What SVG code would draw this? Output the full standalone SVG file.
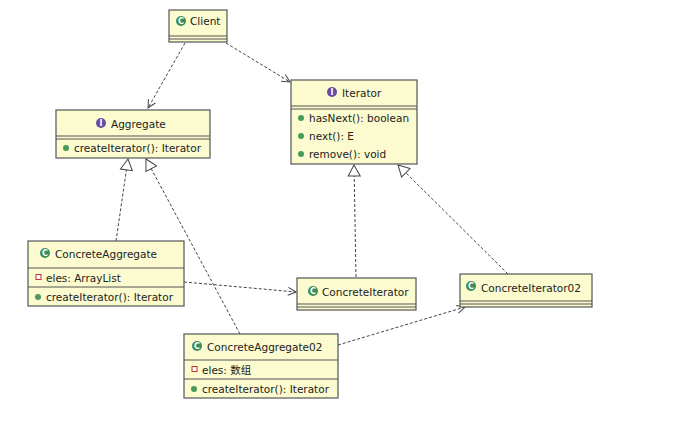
<svg xmlns="http://www.w3.org/2000/svg" width="678" height="425" viewBox="0 0 678 425">
<style>
.box{fill:#fbfbcf;stroke:#555;stroke-width:1.2}
.ln{stroke:#555;stroke-width:1}
text{font-family:"DejaVu Sans","Noto Sans CJK SC",sans-serif;font-size:10.5px;fill:#222}
.e{fill:none;stroke:#444;stroke-width:1;stroke-dasharray:3,2}
.c{fill:#3c8c5a}.i{fill:#6a4aa8}.m{fill:#4a9a5a}.f{fill:#fff;stroke:#c03030;stroke-width:1}
.ct{fill:#fff;font-size:8px;font-weight:bold;text-anchor:middle}
</style>
<defs>
<marker id="open" markerWidth="10" markerHeight="10" refX="9" refY="5" orient="auto" markerUnits="userSpaceOnUse"><path d="M1,1 L9,5 L1,9" fill="none" stroke="#444"/></marker>
<marker id="tri" markerWidth="14" markerHeight="14" refX="12" refY="7" orient="auto" markerUnits="userSpaceOnUse"><path d="M1,1 L12,7 L1,13 Z" fill="#fff" stroke="#444"/></marker>
</defs>
<g id="connectors">
<path class="e" d="M185,43 L148,108" marker-end="url(#open)"/>
<path class="e" d="M226,43 L290,82" marker-end="url(#open)"/>
<path class="e" d="M116,241 L128,159" marker-end="url(#tri)"/>
<path class="e" d="M240,334 L146,159" marker-end="url(#tri)"/>
<path class="e" d="M356,277 L354,165" marker-end="url(#tri)"/>
<path class="e" d="M508,274 L398,165" marker-end="url(#tri)"/>
<path class="e" d="M184,282 L296,292" marker-end="url(#open)"/>
<path class="e" d="M338,345 L465,307" marker-end="url(#open)"/>
</g>
<g id="Client">
<rect class="box" x="169" y="10" width="58" height="32"/>
<line class="ln" x1="169" y1="36" x2="227" y2="36"/><line class="ln" x1="169" y1="39" x2="227" y2="39"/>
<circle class="c" cx="181" cy="21" r="5"/><text class="ct" x="181" y="24">C</text>
<text x="190" y="25">Client</text>
</g>
<g id="Aggregate">
<rect class="box" x="56" y="110" width="154" height="48"/>
<line class="ln" x1="56" y1="136" x2="210" y2="136"/><line class="ln" x1="56" y1="139" x2="210" y2="139"/>
<circle class="i" cx="101" cy="123" r="5"/><text class="ct" x="101" y="126">I</text>
<text x="111" y="128">Aggregate</text>
<circle class="m" cx="66" cy="148" r="3"/>
<text x="74" y="152">createIterator(): Iterator</text>
</g>
<g id="Iterator">
<rect class="box" x="291" y="80" width="126" height="84"/>
<line class="ln" x1="291" y1="106" x2="417" y2="106"/><line class="ln" x1="291" y1="109" x2="417" y2="109"/>
<circle class="i" cx="332" cy="92" r="5"/><text class="ct" x="332" y="95">I</text>
<text x="342" y="97">Iterator</text>
<circle class="m" cx="301" cy="118" r="3"/><text x="309" y="122">hasNext(): boolean</text>
<circle class="m" cx="301" cy="136" r="3"/><text x="309" y="140">next(): E</text>
<circle class="m" cx="301" cy="154" r="3"/><text x="309" y="158">remove(): void</text>
</g>
<g id="ConcreteAggregate">
<rect class="box" x="28" y="241" width="156" height="65"/>
<line class="ln" x1="28" y1="268" x2="184" y2="268"/><line class="ln" x1="28" y1="287" x2="184" y2="287"/>
<circle class="c" cx="45" cy="253" r="5"/><text class="ct" x="45" y="256">C</text>
<text x="55" y="258">ConcreteAggregate</text>
<rect class="f" x="36" y="274.5" width="5" height="5"/><text x="46" y="282">eles: ArrayList</text>
<circle class="m" cx="38" cy="297" r="3"/><text x="46" y="301">createIterator(): Iterator</text>
</g>
<g id="ConcreteIterator">
<rect class="box" x="297" y="278" width="119" height="32"/>
<line class="ln" x1="297" y1="304" x2="416" y2="304"/><line class="ln" x1="297" y1="307" x2="416" y2="307"/>
<circle class="c" cx="313" cy="291" r="5"/><text class="ct" x="313" y="294">C</text>
<text x="322" y="296">ConcreteIterator</text>
</g>
<g id="ConcreteIterator02">
<rect class="box" x="460" y="274" width="132" height="33"/>
<line class="ln" x1="460" y1="301" x2="592" y2="301"/><line class="ln" x1="460" y1="304" x2="592" y2="304"/>
<circle class="c" cx="471" cy="286" r="5"/><text class="ct" x="471" y="289">C</text>
<text x="481" y="292">ConcreteIterator02</text>
</g>
<g id="ConcreteAggregate02">
<rect class="box" x="184" y="334" width="154" height="64"/>
<line class="ln" x1="184" y1="360" x2="338" y2="360"/><line class="ln" x1="184" y1="379" x2="338" y2="379"/>
<circle class="c" cx="197" cy="346" r="5"/><text class="ct" x="197" y="349">C</text>
<text x="207" y="351">ConcreteAggregate02</text>
<rect class="f" x="192" y="366.5" width="5" height="5"/><text x="202" y="374">eles: 数组</text>
<circle class="m" cx="194" cy="389" r="3"/><text x="202" y="393">createIterator(): Iterator</text>
</g>
</svg>
